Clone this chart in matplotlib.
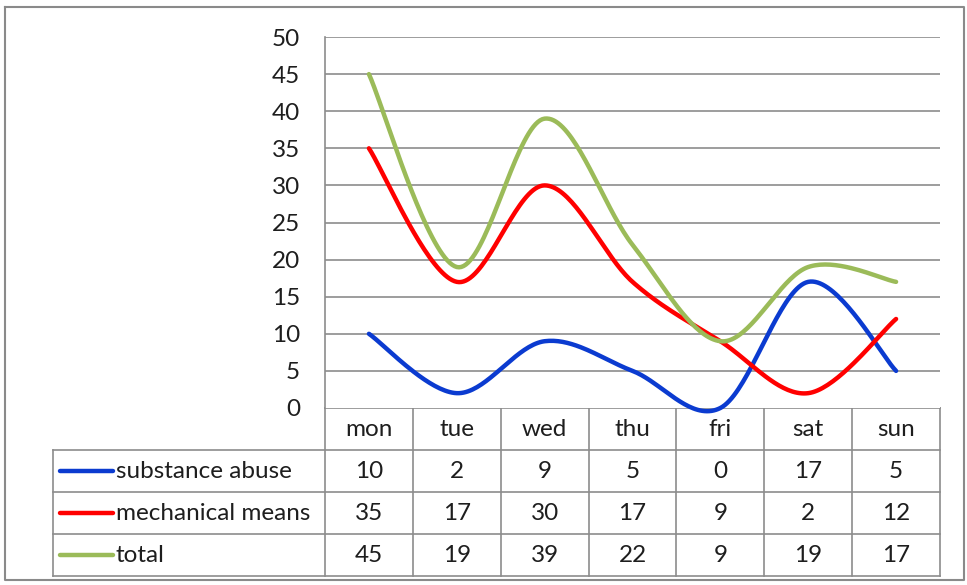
import numpy as np
import matplotlib
matplotlib.use("Agg")
import matplotlib.pyplot as plt

plt.rcParams['font.family'] = ['Lato', 'DejaVu Sans']

days = ["mon", "tue", "wed", "thu", "fri", "sat", "sun"]
substance_abuse = [10, 2, 9, 5, 0, 17, 5]
mechanical_means = [35, 17, 30, 17, 9, 2, 12]
total = [45, 19, 39, 22, 9, 19, 17]

series_names = ["substance abuse", "mechanical means", "total"]
series_values = [substance_abuse, mechanical_means, total]
series_colors = ["#0B3BD0", "#FF0000", "#9BBB59"]
yticks = [0, 5, 10, 15, 20, 25, 30, 35, 40, 45, 50]

W, H = 967, 585
GRID = "#8C8C8C"
FS = 17.5
TXT = "#1E1E1E"


def smooth(xs, ys, n=40):
    """Excel-like smoothed line (Catmull-Rom as cubic Bezier)."""
    pts = np.column_stack([xs, ys]).astype(float)
    ext = np.vstack([pts[0], pts, pts[-1]])
    out = []
    t = np.linspace(0, 1, n)[:, None]
    for i in range(1, len(ext) - 2):
        p0, p1, p2, p3 = ext[i - 1], ext[i], ext[i + 1], ext[i + 2]
        b1 = p1 + (p2 - p0) / 6
        b2 = p2 - (p3 - p1) / 6
        seg = ((1 - t) ** 3) * p1 + 3 * ((1 - t) ** 2) * t * b1 + 3 * (1 - t) * t ** 2 * b2 + t ** 3 * p2
        out.append(seg if i == 1 else seg[1:])
    c = np.vstack(out)
    return c[:, 0], c[:, 1]


fig = plt.figure(figsize=(W / 100, H / 100), dpi=100)

# pixel geometry of plot area
px_l, px_r, px_t, px_b = 325, 940, 37, 408
ax = fig.add_axes([px_l / W, 1 - px_b / H, (px_r - px_l) / W, (px_b - px_t) / H])
ax.set_xlim(0, len(days))
ax.set_ylim(0, 50)
ax.set_yticks(yticks)
ax.set_yticklabels([str(v) for v in yticks], fontsize=FS, color=TXT)
ax.tick_params(axis="y", length=0, pad=18)
ax.set_xticks([])
for s in ["top", "right", "bottom"]:
    ax.spines[s].set_visible(False)
ax.spines["left"].set_color(GRID)
ax.spines["left"].set_linewidth(1.2)
for v in yticks[1:]:
    ax.axhline(v, color=GRID, lw=1.2, zorder=1)

xs = np.arange(len(days)) + 0.5
for vals, col in zip(series_values, series_colors):
    sx, sy = smooth(xs, vals)
    ax.plot(sx, sy, color=col, lw=3.2, solid_capstyle="round", zorder=3, clip_on=False)

# overlay in pixel coordinates for table and border
ov = fig.add_axes([0, 0, 1, 1])
ov.set_xlim(0, W)
ov.set_ylim(H, 0)
ov.axis("off")
ov.set_zorder(-1)

# outer border
ov.plot([5, 964, 964, 5, 5], [7, 7, 580, 580, 7], color="#8A8A8A", lw=1.5)

col_w = (px_r - px_l) / len(days)
row_h = 42
tbl_l = 53
rows_y = [px_b + row_h * i for i in range(5)]  # 408..576

# header row
ov.plot([px_l, px_r], [rows_y[0], rows_y[0]], color=GRID, lw=1.2)
for i in range(len(days) + 1):
    x = px_l + i * col_w
    ov.plot([x, x], [rows_y[0], rows_y[-1]], color=GRID, lw=1.2)
for i in range(1, 5):
    ov.plot([tbl_l, px_r], [rows_y[i], rows_y[i]], color=GRID, lw=1.2)
ov.plot([tbl_l, tbl_l], [rows_y[1], rows_y[-1]], color=GRID, lw=1.2)

for i, d in enumerate(days):
    ov.text(px_l + (i + 0.5) * col_w, rows_y[0] + row_h / 2, d, ha="center", va="center",
            fontsize=FS, color=TXT)

for r, (name, vals, col) in enumerate(zip(series_names, series_values, series_colors)):
    yc = rows_y[r + 1] + row_h / 2
    ov.plot([60, 113], [yc, yc], color=col, lw=3.2, solid_capstyle="round")
    ov.text(116, yc, name, ha="left", va="center", fontsize=FS, color=TXT)
    for i, v in enumerate(vals):
        ov.text(px_l + (i + 0.5) * col_w, yc, str(v), ha="center", va="center",
                fontsize=FS, color=TXT)

fig.savefig("out.png", dpi=100)
